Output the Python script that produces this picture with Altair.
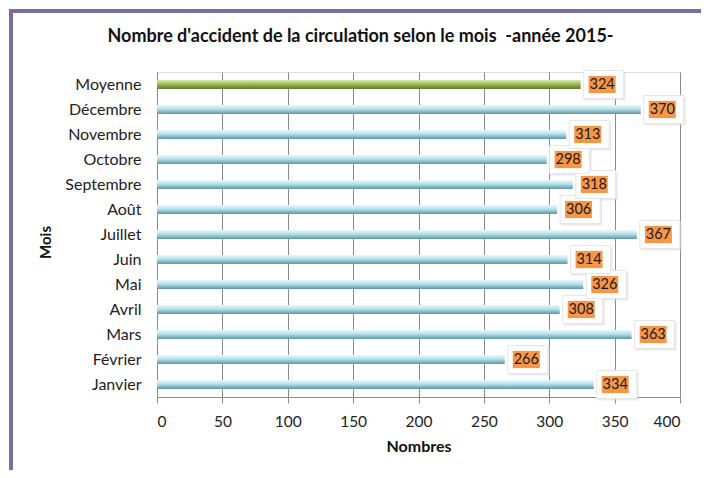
import altair as alt
import pandas as pd

# Data
mois = ["Janvier", "Février", "Mars", "Avril", "Mai", "Juin", "Juillet",
        "Août", "Septembre", "Octobre", "Novembre", "Décembre", "Moyenne"]
valeurs = [334, 266, 363, 308, 326, 314, 367, 306, 318, 298, 313, 370, 324]
groupe = ["mois"] * 12 + ["moyenne"]

df = pd.DataFrame({"Mois": mois, "Nombres": valeurs, "groupe": groupe})
order = list(reversed(mois))

FONT = "Lato"
W, H = 523, 325

x_enc = alt.X("Nombres:Q", scale=alt.Scale(domain=[0, 400]),
              axis=alt.Axis(values=[0, 50, 100, 150, 200, 250, 300, 350, 400],
                            title="Nombres", grid=True, gridColor="#8a8a8a",
                            gridWidth=1, domainColor="#8a8a8a", tickColor="#8a8a8a",
                            tickSize=6, labelPadding=11, labelFontSize=15.5,
                            labelColor="#222222", titleFontSize=16,
                            titleFontWeight="bold", titleColor="#111111",
                            titlePadding=9, labelFont=FONT, titleFont=FONT))
y_enc = alt.Y("Mois:N", sort=order,
              scale=alt.Scale(paddingInner=0.6, paddingOuter=0.3),
              axis=alt.Axis(title="Mois", ticks=False, domainColor="#8a8a8a",
                            labelPadding=16, labelFontSize=16, labelColor="#222222",
                            labelFont=FONT, titleFont=FONT, titleFontSize=15,
                            titleFontWeight="bold", titleColor="#111111",
                            titleAngle=-90, titleX=-112, titleY=170,
                            titleAlign="center", titleBaseline="middle"))

blue = alt.Gradient(gradient="linear", x1=0, x2=0, y1=0, y2=1,
                    stops=[alt.GradientStop(offset=0, color="#eaf8fb"),
                           alt.GradientStop(offset=0.45, color="#b5e1ea"),
                           alt.GradientStop(offset=1, color="#5e96a3")])
green = alt.Gradient(gradient="linear", x1=0, x2=0, y1=0, y2=1,
                     stops=[alt.GradientStop(offset=0, color="#d9ebb0"),
                            alt.GradientStop(offset=0.45, color="#9bbb59"),
                            alt.GradientStop(offset=1, color="#5f7a2c")])

base = alt.Chart(df)

bars_m = base.transform_filter(alt.datum.groupe == "mois").mark_bar(
    fill=blue, height=9).encode(x=x_enc, y=y_enc)
bars_g = base.transform_filter(alt.datum.groupe == "moyenne").mark_bar(
    fill=green, height=9).encode(x=x_enc, y=y_enc)

shadow_path = "M 0.2 -0.6 L 2.25 -0.6 L 2.25 0.8 L 0.2 0.8 Z"
glow_path = "M 0.15 -0.7 L 2.15 -0.7 L 2.15 0.7 L 0.15 0.7 Z"
box_path = "M 0.4 -0.43 L 1.75 -0.43 L 1.75 0.43 L 0.4 0.43 Z"

shadow = base.mark_point(shape=shadow_path, size=1600, filled=True,
                         fill="#cfcfcf", opacity=0.45, strokeWidth=0).encode(
    x="Nombres:Q", y=alt.Y("Mois:N", sort=order))
glow = base.mark_point(shape=glow_path, size=1600, filled=True,
                       fill="#ffffff", stroke="#e6e6e6", strokeWidth=1, opacity=1).encode(
    x="Nombres:Q", y=alt.Y("Mois:N", sort=order))
box = base.mark_point(shape=box_path, size=1600, filled=True,
                      fill="#f79646", strokeWidth=0, opacity=1).encode(
    x="Nombres:Q", y=alt.Y("Mois:N", sort=order))
txt = base.mark_text(dx=21.5, align="center", baseline="middle", fontSize=14.5,
                     font=FONT, color="#1a1a1a").encode(
    x="Nombres:Q", y=alt.Y("Mois:N", sort=order), text="Nombres:Q")

frame_top = alt.Chart(df).mark_rule(color="#7d6c99", strokeWidth=3.5).encode(
    x=alt.value(-146), x2=alt.value(560), y=alt.value(-61))
frame_left = alt.Chart(df).mark_rule(color="#7d6c99", strokeWidth=3.5).encode(
    x=alt.value(-146), y=alt.value(-63), y2=alt.value(420))

chart = alt.layer(bars_m, bars_g, shadow, glow, box, txt, frame_top, frame_left).properties(
    width=W, height=H,
    title=alt.TitleParams("Nombre d'accident de la circulation selon le mois\u00a0\u00a0-année 2015-",
                          font=FONT, fontSize=18, fontWeight="bold", color="#111111",
                          anchor="middle", frame="group", dx=-58, offset=0, dy=57,
                          baseline="bottom"),
    autosize=alt.AutoSizeParams(type="none"),
    padding={"left": 149, "top": 64, "right": 21, "bottom": 73},
).configure_view(stroke=None).configure(background="#ffffff")

chart.save("out.html", embed_options={"renderer": "svg", "actions": False})
